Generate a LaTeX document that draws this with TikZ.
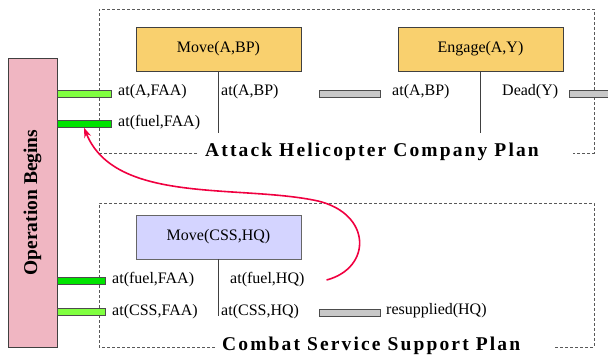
\documentclass[tikz,border=0pt]{standalone}
\usepackage{fontspec}
\setmainfont{Liberation Serif}
\usetikzlibrary{arrows.meta}

\definecolor{taskorange}{RGB}{249,208,110}
\definecolor{tasklilac}{RGB}{212,212,255}
\definecolor{startpink}{RGB}{240,182,194}
\definecolor{lightgreen}{RGB}{128,255,64}
\definecolor{darkgreen}{RGB}{0,228,0}
\definecolor{bargray}{RGB}{200,200,200}
\definecolor{linkred}{RGB}{240,0,64}

\tikzset{
  task/.style={draw=black!75, minimum width=165pt, minimum height=44pt, inner sep=0pt, font=\fontsize{16}{18}\selectfont},
  cond/.style={anchor=west, inner sep=0pt, font=\fontsize{16}{18}\selectfont},
  bar/.style={draw=black!70, line width=0.8pt, inner sep=0pt, minimum height=6.5pt},
  plan/.style={draw=black!65, dash pattern=on 3pt off 2pt},
  plantitle/.style={anchor=base west, inner sep=0pt, font=\bfseries\fontsize{19.5}{22}\selectfont\addfontfeature{LetterSpace=11}},
}

\begin{document}
\begin{tikzpicture}[x=1pt,y=-1pt]
\clip (0,0) rectangle (608,356);

% plan frames
\draw[plan] (197,153) -| (99,9) -| (594,153) -- (573,153);
\draw[plan] (215,347) -| (99,203) -| (594,347) -- (554,347);
\node[plantitle] (ahcp) at (205,156) {Attack Helicopter Company Plan};
\node[plantitle] (cssp) at (222,350) {Combat Service Support Plan};

\node[draw=black!75, fill=startpink, rotate=90, minimum width=289pt, minimum height=49pt, inner sep=0pt, font=\bfseries\fontsize{19.5}{22}\selectfont] (opbegin) at (32.5,202.5) {Operation Begins};

% tasks
\node[task, fill=taskorange] (moveA) at (218.5,49) {Move(A,BP)};
\node[task, fill=taskorange] (engage) at (480.5,49) {Engage(A,Y)};
\node[task, fill=tasklilac, draw=black!60] (moveCSS) at (218.5,237) {Move(CSS,HQ)};

\coordinate (moveAend) at (218.5,133);
\coordinate (engageend) at (480.5,133);
\coordinate (moveCSSend) at (218.5,316);
\draw[black!75] (moveA) -- (moveAend);
\draw[black!75] (engage) -- (engageend);
\draw[black!75] (moveCSS) -- (moveCSSend);

% bars
\node[bar, fill=lightgreen, minimum width=54pt] (barA) at (84,94) {};
\node[bar, fill=darkgreen, minimum width=54pt] (barFuel) at (84,124) {};
\node[bar, fill=darkgreen, minimum width=48pt] (barFuelCSS) at (81,281) {};
\node[bar, fill=lightgreen, minimum width=48pt] (barCSS) at (81,312) {};
\node[bar, fill=bargray, minimum width=61pt] (barBP) at (349.5,94) {};
\node[bar, fill=bargray, minimum width=50pt] (barDead) at (594,94) {};
\node[bar, fill=bargray, minimum width=61pt] (barHQ) at (349.5,313) {};

% conditions
\node[cond] (atAFAA) at (118,92) {at(A,FAA)};
\node[cond] (atFuelFAA) at (118,123) {at(fuel,FAA)};
\node[cond] (atABP) at (221,92) {at(A,BP)};
\node[cond] (atABPtwo) at (392,92) {at(A,BP)};
\node[cond] (deadY) at (502,92) {Dead(Y)};
\node[cond] (fuelFAA) at (112,280) {at(fuel,FAA)};
\node[cond] (cssFAA) at (112,312) {at(CSS,FAA)};
\node[cond] (fuelHQ) at (230,280) {at(fuel,HQ)};
\node[cond] (cssHQ) at (221,312) {at(CSS,HQ)};
\node[cond] (resupHQ) at (386,311) {resupplied(HQ)};

% link
\draw[linkred, line width=1.6pt, -{Stealth[length=10pt,width=7pt]}] ([xshift=22pt]fuelHQ.east) .. controls (372,268) and (372,214) .. (318,201) .. controls (240,184) and (115,205) .. (barFuel.south);

\end{tikzpicture}
\end{document}
